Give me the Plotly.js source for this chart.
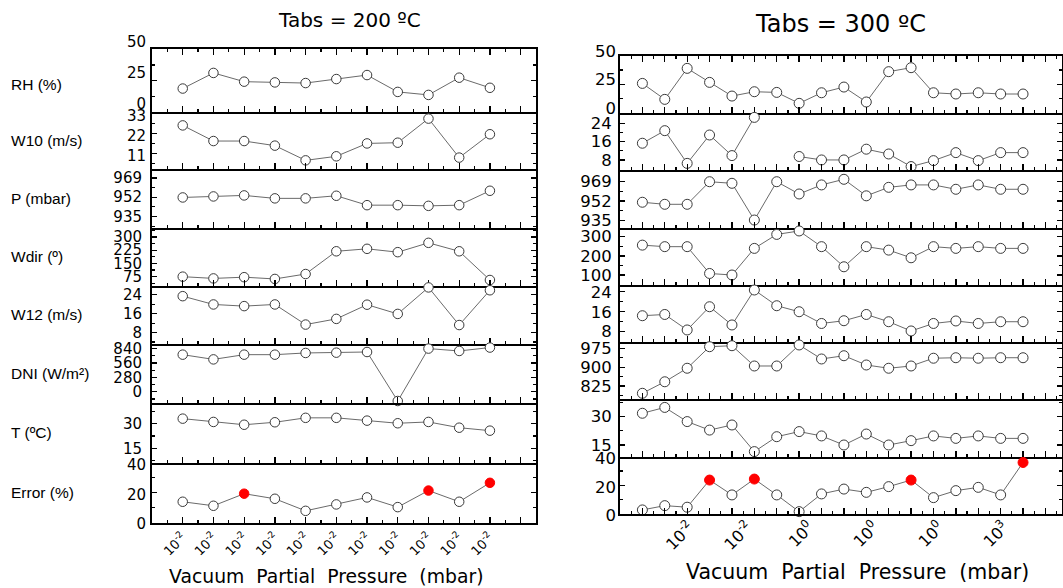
<!DOCTYPE html>
<html><head><meta charset="utf-8">
<script src="https://cdn.plot.ly/plotly-3.0.1.min.js"></script>
<style>html,body{margin:0;padding:0;background:#fff}#chart{width:1063px;height:588px}</style>
</head><body><div id="chart"></div>
<script>
// ---------------- DATA ----------------
const variables = ["RH (%)","W10 (m/s)","P (mbar)","Wdir (º)","W12 (m/s)","DNI (W/m²)","T (ºC)","Error (%)"];

// Tabs = 200 ºC (11 tests)
const x200 = [0,1,2,3,4,5,6,7,8,9,10];
const rh200   = [18.6,31.1,24.1,23.5,23.0,26.2,29.4,15.9,13.5,27.3,19.2];
const w10_200 = [26.4,17.9,17.9,15.4,7.4,9.6,16.6,17.0,30.1,8.9,21.6];
const p200    = [951.8,952.7,953.6,951.0,951.0,953.3,945.0,945.0,944.4,945.0,957.7];
const wdir200 = [75,65,72,62,90,219,233,214,267,219,56];
const w12_200 = [23.4,19.9,19.2,19.9,11.4,13.8,19.8,15.9,27.1,11.2,25.9];
const dni200  = [722,630,722,722,755,761,774,-179,840,794,860];
const t200    = [33.0,31.0,29.3,30.8,33.5,33.5,31.8,30.2,31.0,27.5,25.7];
const err200  = [14.0,11.3,19.4,16.0,7.9,12.2,16.9,10.4,21.5,14.0,26.7];
const high200 = [2,8,10];
const tickPos200  = [-1,0,1,2,3,4,5,6,7,8,9,10,11];
const tickText200 = ["","10<sup>-2</sup>","10<sup>-2</sup>","10<sup>-2</sup>","10<sup>-2</sup>","10<sup>-2</sup>","10<sup>-2</sup>","10<sup>-2</sup>","10<sup>-2</sup>","10<sup>-2</sup>","10<sup>-2</sup>","10<sup>-2</sup>",""];

// Tabs = 300 ºC (18 tests)
const x300 = [0,1,2,3,4,5,6,7,8,9,10,11,12,13,14,15,16,17];
const rh300   = [25.7,11.7,38.9,26.6,14.6,18.4,17.8,8.2,17.5,22.5,9.4,36.0,39.5,17.5,16.4,17.5,16.4,16.4];
const w10_300 = [15.3,20.8,6.5,18.9,9.9,26.6,null,9.5,8.0,8.0,12.7,10.6,5.1,7.7,11.2,7.7,11.2,11.2];
const p300    = [950.9,949.1,949.1,968.8,967.4,935.4,968.8,958.1,966.0,970.9,956.5,963.9,966.0,966.0,962.2,966.0,962.2,962.2];
const wdir300 = [256,248,248,108,100,239,312,330,248,143,248,230,190,248,239,248,239,239];
const w12_300 = [14.4,14.9,8.7,18.0,10.7,24.7,18.4,16.0,11.3,12.4,14.9,12.0,8.3,11.3,12.3,11.3,12.0,12.0];
const dni300  = [796,842,896,982,986,905,905,989,933,946,909,896,905,936,938,936,938,938];
const t300    = [31.8,34.9,27.4,22.9,25.6,11.5,19.4,22.1,19.8,15.0,20.8,15.0,17.3,19.8,18.5,19.8,18.5,18.5];
const err300  = [2.8,5.8,4.7,23.7,13.3,24.4,13.3,1.6,14.0,17.4,15.1,19.1,23.7,11.4,16.3,18.6,13.3,36.0];
const high300 = [3,5,12,17];
const tickPos300  = [2.1,4.7,7.45,10.35,13.25,16.15];
const tickText300 = ["10<sup>-2</sup>","10<sup>-2</sup>","10<sup>0</sup>","10<sup>0</sup>","10<sup>0</sup>","10<sup>3</sup>"];

// ---------------- LAYOUT ----------------
const W = 1063, H = 588;
const leftEdges  = [49.3,111.8,169,227.5,286,343.5,402.7,462.9,522.7];
const rightEdges = [55.7,112.7,170,228.3,285,341.7,399.3,456.7,514];
const leftX = [152/W, 536/W], rightX = [620/W, 1062/W];
const leftXRange = [-1, 11.5], rightXRange = [-1, 18.74];

// shift: label offset in pixels, positive = downward on screen
const leftY = [
  {range:[-0.01,50.01], tick0:0, dtick:25, shift:-8},
  {range:[2.7,33.8], tick0:0, dtick:11, shift:2},
  {range:[925.3,976.9], tick0:935, dtick:17},
  {range:[22,354], tick0:0, dtick:75},
  {range:[3.4,27.7], tick0:0, dtick:8},
  {range:[-212,939], tick0:0, dtick:280},
  {range:[6.1,42.7], tick0:0, dtick:15},
  {range:[-0.05,40.05], tick0:0, dtick:20, shift:1.5}
];
const rightY = [
  {range:[-0.01,50.01], tick0:0, dtick:25, shift:-4.5},
  {range:[3.6,28.65], tick0:0, dtick:8},
  {range:[928.2,979], tick0:935, dtick:17},
  {range:[47.8,343.9], tick0:0, dtick:100},
  {range:[4,26.7], tick0:0, dtick:8},
  {range:[772,1002], tick0:0, dtick:75},
  {range:[8.8,39.2], tick0:0, dtick:15},
  {range:[-0.05,40.05], tick0:0, dtick:20, shift:1.5}
];

const series200 = [rh200,w10_200,p200,wdir200,w12_200,dni200,t200,err200];
const series300 = [rh300,w10_300,p300,wdir300,w12_300,dni300,t300,err300];

const layout = {
  width: W, height: H, margin:{l:0,r:0,t:0,b:0},
  paper_bgcolor:'#fff', plot_bgcolor:'rgba(0,0,0,0)', showlegend:false,
  font:{family:'DejaVu Sans', color:'#000'},
  annotations: []
};
const traces = [];
let extraId = 18;

function markerArrays(n, high, isErr){
  const fill = [], edge = [];
  for(let i=0;i<n;i++){
    const h = isErr && high.indexOf(i) >= 0;
    fill.push(h ? '#ff0000' : '#ffffff');
    edge.push(h ? '#ff0000' : '#3a3a3a');
  }
  return {fill, edge};
}

function buildPanel(offset, xs, series, edges, xdom, xrange, ycfg, high, bottomTicks, tickFont, yFont, labStand, msize){
  for(let k=0;k<8;k++){
    const id = offset + k + 1;
    const xn = 'xaxis' + (id===1?'':id), yn = 'yaxis' + (id===1?'':id);
    const xr = 'x' + (id===1?'':id), yr = 'y' + (id===1?'':id);
    const isBottom = k===7, isTop = k===0;
    const dom = [1 - edges[k+1]/H, 1 - edges[k]/H];
    const xa = {
      domain: xdom, anchor: yr, range: xrange,
      showline:true, linecolor:'#000', linewidth:2, mirror: isTop ? 'ticks' : false,
      ticks:'inside', ticklen:6, tickwidth:1.3, tickcolor:'#000',
      showgrid:false, zeroline:false, fixedrange:true,
      minor:{ticks:'inside', ticklen:3, tickwidth:1.2, tickcolor:'#000', tickmode:'linear', tick0:-0.5, dtick:1, showgrid:false}
    };
    if(isBottom && bottomTicks.inline){
      xa.tickmode='array'; xa.tickvals=bottomTicks.pos; xa.ticktext=bottomTicks.text;
      xa.tickangle=-45; xa.tickfont={family:'DejaVu Sans', size:tickFont, color:'#000'};
      xa.showticklabels = true;
    } else {
      xa.tickmode='linear'; xa.tick0=0; xa.dtick=1; xa.showticklabels=false;
    }
    layout[xn] = xa;
    const c = ycfg[k];
    const ya = {
      domain: dom, anchor: xr, range: c.range,
      tickmode:'linear', tick0:c.tick0, dtick:c.dtick,
      showline:true, linecolor:'#000', linewidth:2, mirror:'ticks',
      ticks:'inside', ticklen:5, tickwidth:1.3, tickcolor:'#000',
      minor:{ticks:'inside', ticklen:3, tickwidth:1.2, tickcolor:'#000', tickmode:'linear', tick0:c.tick0 + c.dtick/2, dtick:c.dtick, showgrid:false},
      showgrid:false, zeroline:false, fixedrange:true,
      tickfont:{family:'DejaVu Sans', size:yFont, color:'#000'},
      ticklabelstandoff: labStand
    };
    layout[yn] = ya;
    if(c.shift){
      // labels drawn by a label-only axis whose domain is displaced by c.shift pixels
      ya.showticklabels = false;
      const lid = extraId++;
      layout['yaxis' + lid] = {
        domain: [1 - (edges[k+1] + c.shift)/H, 1 - (edges[k] + c.shift)/H],
        anchor: xr, range: c.range, tickmode:'linear', tick0:c.tick0, dtick:c.dtick,
        ticks:'', showline:false, showgrid:false, zeroline:false, fixedrange:true,
        tickfont:{family:'DejaVu Sans', size:yFont, color:'#000'},
        ticklabelstandoff: labStand
      };
      traces.push({type:'scatter', mode:'markers', x:[], y:[], xaxis:xr, yaxis:'y'+lid, hoverinfo:'skip'});
    }
    const m = markerArrays(xs.length, high, isBottom);
    traces.push({
      type:'scatter', mode:'lines+markers', x: xs, y: series[k], xaxis: xr, yaxis: yr,
      connectgaps:false, cliponaxis:false, hoverinfo:'skip',
      line:{color:'#6a6a6a', width:1},
      marker:{symbol:'circle', size:msize, color:m.fill, line:{color:m.edge, width:1}}
    });
  }
}

buildPanel(0, x200, series200, leftEdges, leftX, leftXRange, leftY, high200,
  {inline:true, pos:tickPos200, text:tickText200}, 13, 15, 5, 9.5);
buildPanel(8, x300, series300, rightEdges, rightX, rightXRange, rightY, high300,
  {inline:false}, 16, 16.5, 3, 10);

// overlay axis carrying the tick labels of the right panel
layout.xaxis17 = {
  overlaying:'x16', anchor:'y16', range:rightXRange, side:'bottom',
  tickmode:'array', tickvals:tickPos300, ticktext:tickText300,
  ticks:'', showline:false, showgrid:false, zeroline:false, fixedrange:true,
  tickangle:-45, tickfont:{family:'DejaVu Sans', size:16, color:'#000'}
};
traces.push({type:'scatter', mode:'markers', x:[], y:[], xaxis:'x17', yaxis:'y16', hoverinfo:'skip'});

// row labels (left side)
for(let k=0;k<8;k++){
  let mid = (leftEdges[k]+leftEdges[k+1])/2;
  if(k===0) mid += 4;
  layout.annotations.push({
    text: variables[k], xref:'paper', yref:'paper', x: 9/W, y: 1 - mid/H,
    xanchor:'left', yanchor:'middle', showarrow:false,
    font:{family:'Liberation Sans', size:15.5, color:'#000'}
  });
}
// titles
layout.annotations.push({text:'Tabs = 200 ºC', xref:'paper', yref:'paper', x:349/W, y:1-20/H,
  xanchor:'center', yanchor:'middle', showarrow:false, font:{family:'DejaVu Sans', size:20, color:'#000'}});
layout.annotations.push({text:'Tabs = 300 ºC', xref:'paper', yref:'paper', x:840/W, y:1-24/H,
  xanchor:'center', yanchor:'middle', showarrow:false, font:{family:'DejaVu Sans', size:24, color:'#000'}});
layout.annotations.push({text:'Vacuum  Partial  Pressure  (mbar)', xref:'paper', yref:'paper', x:326/W, y:1-576/H,
  xanchor:'center', yanchor:'middle', showarrow:false, font:{family:'DejaVu Sans', size:18.8, color:'#000'}});
layout.annotations.push({text:'Vacuum  Partial  Pressure  (mbar)', xref:'paper', yref:'paper', x:857/W, y:1-572/H,
  xanchor:'center', yanchor:'middle', showarrow:false, font:{family:'DejaVu Sans', size:20.5, color:'#000'}});

Plotly.newPlot('chart', traces, layout, {staticPlot:true, displayModeBar:false});
</script>
</body></html>
